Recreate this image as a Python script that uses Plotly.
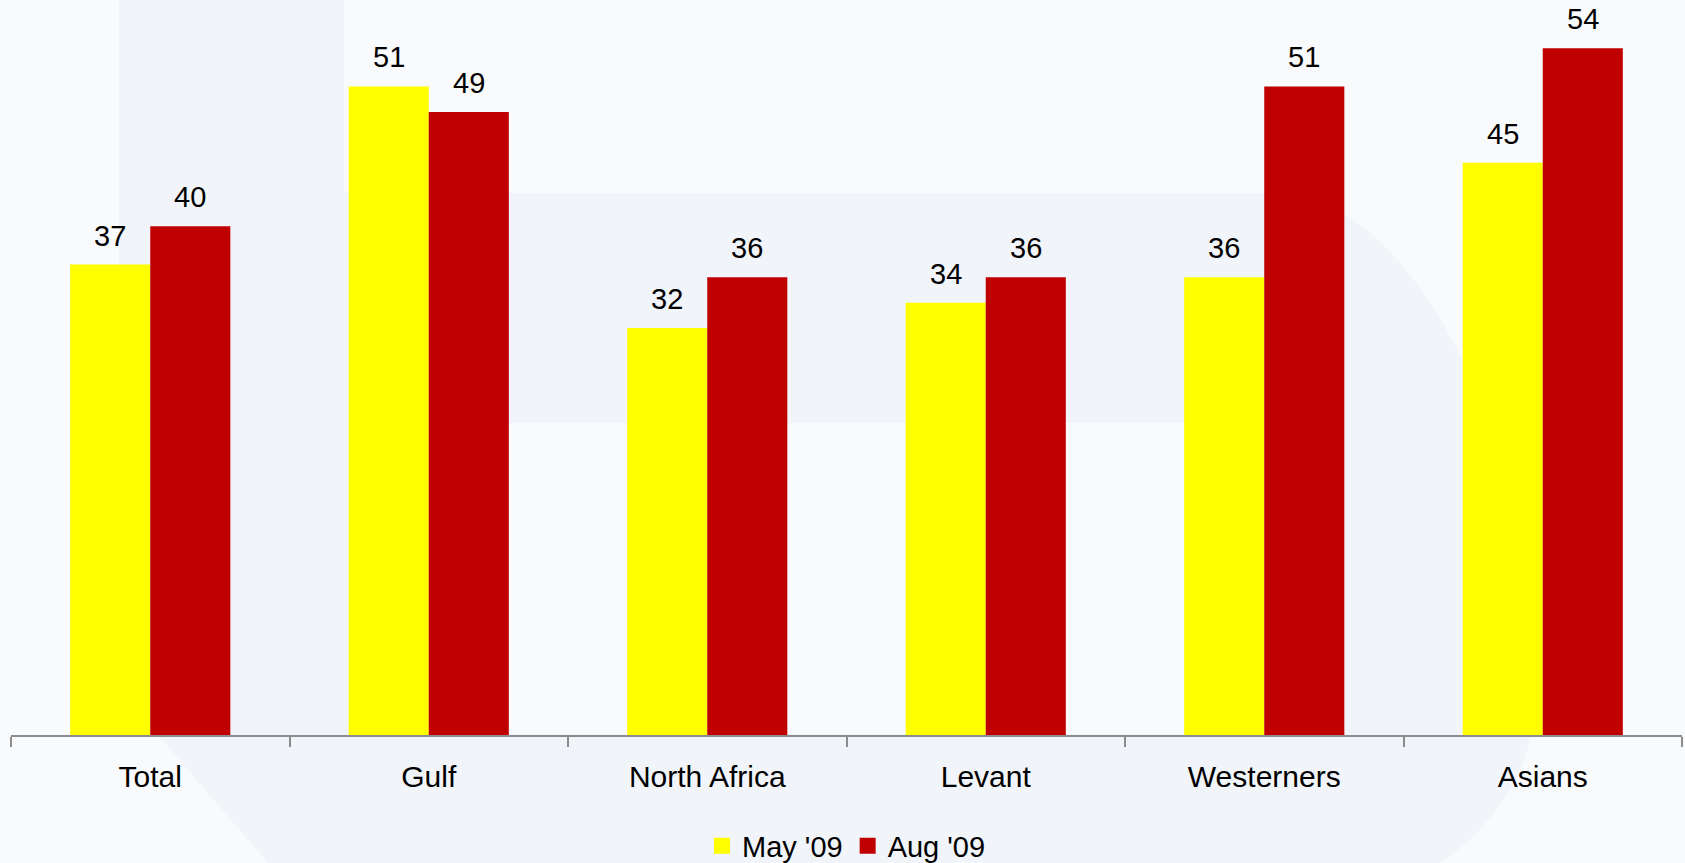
import plotly.graph_objects as go

# Survey share by nationality group, two waves
categories = ["Total", "Gulf", "North Africa", "Levant", "Westerners", "Asians"]
may_09 = [37, 51, 32, 34, 36, 45]
aug_09 = [40, 49, 36, 36, 51, 54]
series_names = ["May '09", "Aug '09"]

W, H = 1685, 863
ML, MR, MT, MB = 11, 3, 0, 128
PW, PH = W - ML - MR, H - MT - MB

YELLOW = "#FFFF00"
RED = "#C00000"
BG_LIGHT = "#F9FAFC"
BG_DARK = "#F1F4F9"
FONT = "Liberation Sans, Arial, sans-serif"


def px(x, y):
    """Pixel position on the page -> paper coordinates."""
    return (x - ML) / PW, 1 - (y - MT) / PH


def path(cmds):
    out = []
    for c in cmds:
        if c == "Z":
            out.append("Z")
            continue
        op, pts = c[0], c[1:]
        coords = " ".join("%.5f,%.5f" % px(*p) for p in pts)
        out.append(op + coords)
    return " ".join(out)


fig = go.Figure()
colors = [YELLOW, RED]
for name, vals, col in zip(series_names, (may_09, aug_09), colors):
    fig.add_trace(go.Bar(name=name, x=categories, y=vals, showlegend=False,
                         marker=dict(color=col, line=dict(width=0))))

# legend entries drawn as square swatches
for name, col in zip(series_names, colors):
    fig.add_trace(go.Scatter(name=name, x=[None], y=[None], mode="markers",
                             marker=dict(symbol="square", size=16, color=col),
                             showlegend=True, hoverinfo="skip"))

# value labels above each bar
bar_half = 40
for vals, shift in ((may_09, -bar_half), (aug_09, bar_half)):
    for c, v in zip(categories, vals):
        fig.add_annotation(x=c, y=v, text=str(v), showarrow=False,
                           xref="x", yref="y", xshift=shift, yshift=11,
                           yanchor="bottom",
                           font=dict(family=FONT, size=29, color="#000000"))

# soft background panels
shapes = [
    dict(type="path", xref="paper", yref="paper", layer="below",
         fillcolor=BG_DARK, line=dict(width=0),
         path=path([
             ("M", (119, 0)), ("L", (344, 0)), ("L", (344, 193)),
             ("L", (1270, 193)),
             ("C", (1420, 193), (1535, 450), (1535, 700)),
             ("C", (1535, 770), (1490, 830), (1440, 863)),
             ("L", (268, 863)), ("L", (119, 690)), "Z"])),
    dict(type="rect", xref="paper", yref="paper", layer="below",
         fillcolor=BG_LIGHT, line=dict(width=0),
         x0=px(400, 0)[0], x1=px(1260, 0)[0],
         y0=px(0, 734)[1], y1=px(0, 423)[1]),
]

fig.update_layout(
    width=W, height=H,
    margin=dict(l=ML, r=MR, t=MT, b=MB, pad=0, autoexpand=False),
    paper_bgcolor=BG_LIGHT,
    plot_bgcolor="rgba(0,0,0,0)",
    barmode="group",
    bargap=0.425,
    bargroupgap=0,
    shapes=shapes,
    font=dict(family=FONT, size=29, color="#000000"),
    showlegend=True,
    legend=dict(orientation="h", x=0.5, xanchor="center",
                y=px(0, 846)[1], yanchor="middle",
                font=dict(family=FONT, size=29, color="#000000"),
                bgcolor="rgba(0,0,0,0)", itemwidth=30,
                itemsizing="trace", traceorder="normal"),
    xaxis=dict(
        type="category",
        automargin=False,
        showline=True, linecolor="#8C8C8C", linewidth=2,
        ticks="outside", tickson="boundaries", ticklen=10,
        tickcolor="#8C8C8C", tickwidth=2,
        showgrid=False, zeroline=False,
        ticklabelstandoff=14,
        tickfont=dict(family=FONT, size=30, color="#000000"),
    ),
    yaxis=dict(visible=False, range=[0, 57.8], fixedrange=True),
)

fig.write_html("out.html")
